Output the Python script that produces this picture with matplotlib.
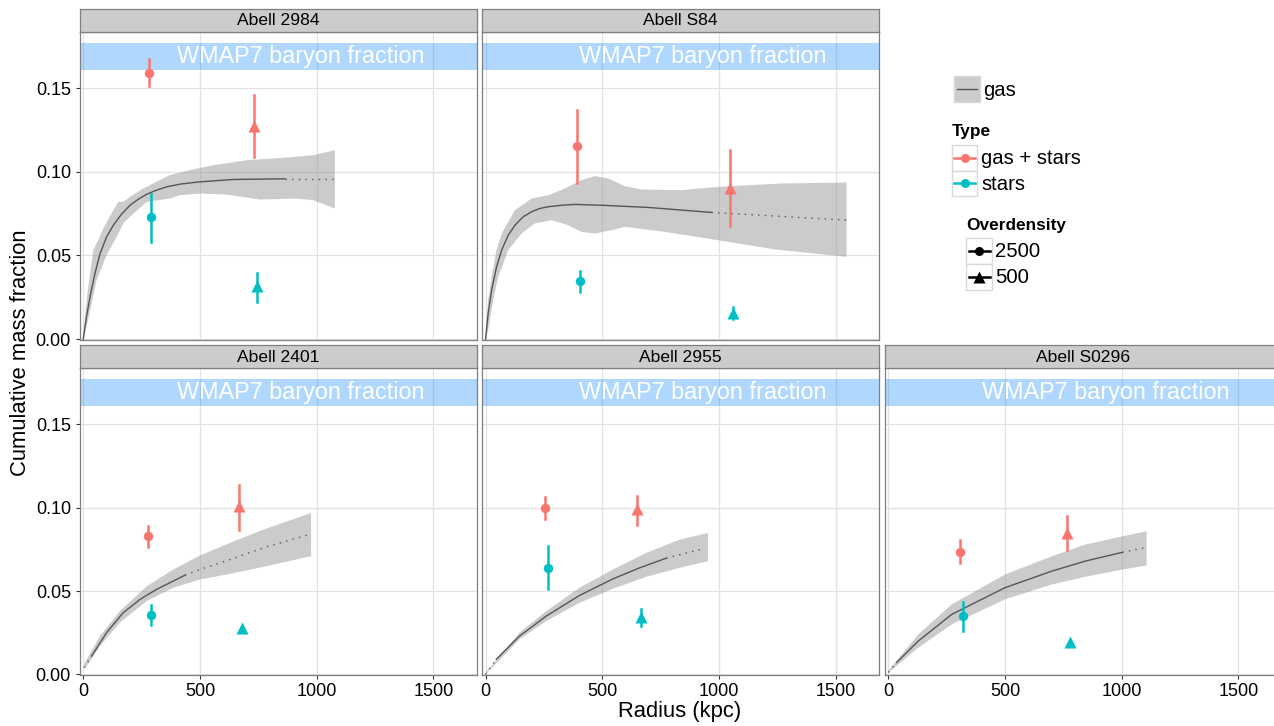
import numpy as np
import matplotlib.pyplot as plt
from matplotlib.patches import Rectangle

plt.rcParams['font.family'] = ['Liberation Sans', 'DejaVu Sans']

# cumulative gas fraction profiles (line + band)
a2984_r = [0, 14, 29, 50, 72, 100, 129, 164, 200, 236, 272, 314, 357, 414, 500, 643, 864, 1086]
a2984_f = [0, 0.0135, 0.0253, 0.0392, 0.0512, 0.0611, 0.0681, 0.0747, 0.0800, 0.0836, 0.0866,
           0.0890, 0.0910, 0.0926, 0.0940, 0.0954, 0.0958, 0.0958]
a2984_solid = (0, 864)
a2984_up_r = [0, 14, 43, 64, 86, 129, 150, 171, 200, 257, 314, 371, 457, 557, 700, 871, 986, 1078]
a2984_up_f = [0.0014, 0.0233, 0.0532, 0.0591, 0.0661, 0.0771, 0.0820, 0.0820, 0.0850, 0.0900,
              0.0940, 0.0980, 0.1010, 0.1039, 0.1069, 0.1085, 0.1099, 0.1129]
a2984_lo_r = [0, 14, 36, 57, 100, 143, 171, 200, 272, 371, 414, 500, 614, 757, 914, 986, 1078]
a2984_lo_f = [0, 0.0073, 0.0213, 0.0352, 0.0502, 0.0611, 0.0691, 0.0731, 0.0820, 0.0840, 0.0860,
              0.0870, 0.0864, 0.0834, 0.0840, 0.0830, 0.0781]

s84_r = [0, 11, 26, 47, 69, 97, 126, 161, 197, 233, 269, 326, 383, 497, 697, 968, 1547]
s84_f = [0, 0.0153, 0.0293, 0.0432, 0.0532, 0.0621, 0.0681, 0.0731, 0.0761, 0.0781, 0.0791,
         0.0800, 0.0805, 0.0800, 0.0787, 0.0757, 0.0711]
s84_solid = (0, 968)
s84_up_r = [0, 11, 26, 47, 69, 126, 197, 269, 340, 411, 468, 526, 597, 668, 840, 997, 1268, 1547]
s84_up_f = [0.0014, 0.0233, 0.0372, 0.0532, 0.0631, 0.0771, 0.0840, 0.0860, 0.0900, 0.0950,
            0.0974, 0.0960, 0.0914, 0.0894, 0.0890, 0.0910, 0.0930, 0.0936]
s84_lo_r = [0, 11, 33, 54, 97, 154, 211, 283, 354, 411, 468, 540, 597, 768, 997, 1240, 1547]
s84_lo_f = [0, 0.0054, 0.0233, 0.0372, 0.0532, 0.0631, 0.0691, 0.0711, 0.0681, 0.0641, 0.0631,
            0.0651, 0.0671, 0.0641, 0.0591, 0.0536, 0.0492]

a2401_r = [3, 36, 100, 171, 243, 314, 436, 500, 629, 772, 976]
a2401_f = [0.0042, 0.0111, 0.0251, 0.0370, 0.0450, 0.0510, 0.0595, 0.0629, 0.0689, 0.0759, 0.0842]
a2401_solid = (36, 436)
a2401_up_r = [3, 72, 157, 272, 386, 500, 629, 772, 976]
a2401_up_f = [0.0062, 0.0231, 0.0380, 0.0529, 0.0629, 0.0713, 0.0789, 0.0868, 0.0968]
a2401_lo_r = [7, 72, 157, 272, 386, 500, 629, 772, 976]
a2401_lo_f = [0.0032, 0.0171, 0.0311, 0.0440, 0.0520, 0.0569, 0.0603, 0.0645, 0.0709]

a2955_r = [0, 46, 146, 260, 403, 546, 660, 774, 934]
a2955_f = [0, 0.0091, 0.0231, 0.0350, 0.0474, 0.0573, 0.0639, 0.0697, 0.0754]
a2955_solid = (46, 774)
a2955_up_r = [0, 146, 260, 403, 546, 689, 831, 953]
a2955_up_f = [0.0010, 0.0251, 0.0380, 0.0520, 0.0629, 0.0729, 0.0808, 0.0848]
a2955_lo_r = [0, 146, 260, 403, 546, 689, 831, 953]
a2955_lo_f = [0, 0.0211, 0.0320, 0.0430, 0.0514, 0.0585, 0.0639, 0.0679]

s0296_r = [0, 36, 129, 272, 500, 700, 843, 1003, 1107]
s0296_f = [0.0012, 0.0072, 0.0201, 0.0360, 0.0520, 0.0619, 0.0679, 0.0732, 0.0762]
s0296_solid = (36, 1003)
s0296_up_r = [0, 129, 272, 500, 700, 843, 1003, 1107]
s0296_up_f = [0.0022, 0.0241, 0.0420, 0.0599, 0.0708, 0.0778, 0.0828, 0.0858]
s0296_lo_r = [0, 129, 272, 500, 700, 843, 1003, 1107]
s0296_lo_f = [0.0010, 0.0161, 0.0300, 0.0450, 0.0539, 0.0585, 0.0629, 0.0653]

# point measurements with error bars
pt_cluster = ['Abell 2984'] * 4 + ['Abell S84'] * 4 + ['Abell 2401'] * 4 + \
             ['Abell 2955'] * 4 + ['Abell S0296'] * 4
pt_type = ['gas + stars', 'gas + stars', 'stars', 'stars'] * 5
pt_delta = ['2500', '500', '2500', '500'] * 5
pt_r = [280, 733, 291, 744,
        393, 1048, 404, 1060,
        276, 666, 289, 680,
        254, 650, 266, 664,
        309, 767, 321, 779]
pt_f = [0.1593, 0.1274, 0.0727, 0.0317,
        0.1153, 0.0904, 0.0346, 0.0157,
        0.0828, 0.1007, 0.0358, 0.0281,
        0.0998, 0.0992, 0.0639, 0.0344,
        0.0735, 0.0848, 0.0350, 0.0197]
pt_lo = [0.1511, 0.1089, 0.0581, 0.0223,
         0.0934, 0.0677, 0.0283, 0.0118,
         0.0765, 0.0868, 0.0299, 0.0270,
         0.0934, 0.0898, 0.0510, 0.0290,
         0.0669, 0.0744, 0.0260, 0.0190]
pt_hi = [0.1673, 0.1458, 0.0870, 0.0398,
         0.1368, 0.1129, 0.0408, 0.0190,
         0.0892, 0.1137, 0.0414, 0.0292,
         0.1061, 0.1067, 0.0768, 0.0390,
         0.0808, 0.0947, 0.0434, 0.0205]

wmap_lo, wmap_hi = 0.161, 0.177

clusters = ['Abell 2984', 'Abell S84', 'Abell 2401', 'Abell 2955', 'Abell S0296']
profiles = {
    'Abell 2984': (a2984_r, a2984_f, a2984_solid, a2984_up_r, a2984_up_f, a2984_lo_r, a2984_lo_f),
    'Abell S84': (s84_r, s84_f, s84_solid, s84_up_r, s84_up_f, s84_lo_r, s84_lo_f),
    'Abell 2401': (a2401_r, a2401_f, a2401_solid, a2401_up_r, a2401_up_f, a2401_lo_r, a2401_lo_f),
    'Abell 2955': (a2955_r, a2955_f, a2955_solid, a2955_up_r, a2955_up_f, a2955_lo_r, a2955_lo_f),
    'Abell S0296': (s0296_r, s0296_f, s0296_solid, s0296_up_r, s0296_up_f, s0296_lo_r, s0296_lo_f),
}
grid_pos = {'Abell 2984': (0, 0), 'Abell S84': (1, 0), 'Abell 2401': (0, 1),
            'Abell 2955': (1, 1), 'Abell S0296': (2, 1)}

colors = {'gas + stars': '#F8766D', 'stars': '#00BFC4'}
markers = {'2500': 'o', '500': '^'}

W, H = 1274, 726
fig = plt.figure(figsize=(W / 100, H / 100), dpi=100)


def pbox(l, t, r, b):
    return [l / W, 1 - b / H, (r - l) / W, (b - t) / H]


col_left = [80, 482.3, 885]
panel_w = 397
row_top = [32, 368.3]
row_bot = [340, 675.3]
strip_h = 23.5
edge = '#7F7F7F'

for name in clusters:
    c, rw = grid_pos[name]
    l = col_left[c]
    ax = fig.add_axes(pbox(l, row_top[rw], l + panel_w, row_bot[rw]))
    ax.set_xlim(-14, 1687)
    ax.set_ylim(-0.0005, 0.1835)
    ax.set_xticks([0, 500, 1000, 1500])
    ax.set_yticks([0, 0.05, 0.10, 0.15])
    ax.set_yticklabels(['0.00', '0.05', '0.10', '0.15'])
    ax.grid(True, color='#E2E2E2', lw=0.9)
    ax.set_axisbelow(True)
    for s in ax.spines.values():
        s.set_color(edge)
        s.set_linewidth(0.9)
        s.set_zorder(5)
    ax.tick_params(length=3, width=0.8, color='#333333', labelsize=13, labelcolor='black')
    ax.tick_params(axis='y', pad=3.5)
    ax.tick_params(axis='x', pad=2.5)
    if c != 0:
        ax.tick_params(axis='y', length=0, labelleft=False)
    if rw == 0:
        ax.tick_params(axis='x', length=0, labelbottom=False)

    # WMAP7 band
    ax.axhspan(wmap_lo, wmap_hi, color='dodgerblue', alpha=0.35, lw=0, zorder=1)
    ax.text(930, (wmap_lo + wmap_hi) / 2, 'WMAP7 baryon fraction', color='white',
            fontsize=16.8, ha='center', va='center', zorder=2)

    # gas profile
    r, f, solid, up_r, up_f, lo_r, lo_f = profiles[name]
    r = np.array(r)
    f = np.array(f)
    ax.fill(np.r_[up_r, lo_r[::-1]], np.r_[up_f, lo_f[::-1]], color='#999999', alpha=0.5,
            lw=0, zorder=2)
    m = (r >= solid[0]) & (r <= solid[1])
    ax.plot(r[m], f[m], color='#555555', lw=1.0, zorder=3, solid_joinstyle='round')
    for mm in [r <= solid[0], r >= solid[1]]:
        if mm.sum() > 1:
            ax.plot(r[mm], f[mm], color='#555555', lw=1.0, dashes=(1, 3.8), zorder=3)

    # points
    for i in range(len(pt_r)):
        if pt_cluster[i] != name:
            continue
        col = colors[pt_type[i]]
        ax.plot([pt_r[i], pt_r[i]], [pt_lo[i], pt_hi[i]], color=col, lw=1.8, zorder=4)
        ax.plot(pt_r[i], pt_f[i], marker=markers[pt_delta[i]], color=col, mec='none',
                ms=6.8 if pt_delta[i] == '2500' else 8.5, zorder=4)

    # strip
    sax = fig.add_axes(pbox(l, row_top[rw] - strip_h, l + panel_w, row_top[rw]))
    sax.set_facecolor('#CCCCCC')
    sax.set_xticks([])
    sax.set_yticks([])
    for s in sax.spines.values():
        s.set_color(edge)
        s.set_linewidth(0.9)
    sax.text(0.5, 0.47, name, ha='center', va='center', fontsize=12.6, transform=sax.transAxes)

fig.text(21 / W, 1 - 353 / H, 'Cumulative mass fraction', rotation=90, ha='center',
         va='center', fontsize=15.8)
fig.text(680 / W, 1 - 712 / H, 'Radius (kpc)', ha='center', va='center', fontsize=15.8)

# legend, drawn in pixel coordinates
lax = fig.add_axes([0, 0, 1, 1])
lax.set_xlim(0, W)
lax.set_ylim(H, 0)
lax.axis('off')
key_edge = '#D9D9D9'


def key_box(x, y, fill='white'):
    lax.add_patch(Rectangle((x, y), 25.6, 25.6, facecolor=fill, edgecolor=key_edge, lw=1.0))


key_box(954, 76, fill='#CCCCCC')
lax.plot([957, 977], [88.8, 88.8], color='#555555', lw=1.0)
lax.text(983.3, 90.7, 'gas', fontsize=14.6, va='center')

lax.text(951.7, 131.7, 'Type', fontsize=12.4, fontweight='bold', va='center')
for yk, lab in [(145, 'gas + stars'), (170.6, 'stars')]:
    key_box(951.7, yk)
    lax.plot([954, 975], [yk + 12.8, yk + 12.8], color=colors[lab], lw=1.8)
    lax.plot(964.5, yk + 12.8, marker='o', color=colors[lab], ms=6.5, mec='none')
    lax.text(981, yk + 13.5, lab, fontsize=14.6, va='center')

lax.text(966.5, 225.7, 'Overdensity', fontsize=12.4, fontweight='bold', va='center')
for yk, lab in [(238.3, '2500'), (263.9, '500')]:
    key_box(966, yk)
    lax.plot([968.5, 989.5], [yk + 12.8, yk + 12.8], color='black', lw=1.8)
    lax.plot(979, yk + 12.8, marker=markers[lab], color='black',
             ms=6.5 if lab == '2500' else 8, mec='none')
    lax.text(995, yk + 13.5, lab, fontsize=14.6, va='center')

fig.savefig('out.png', dpi=100)
